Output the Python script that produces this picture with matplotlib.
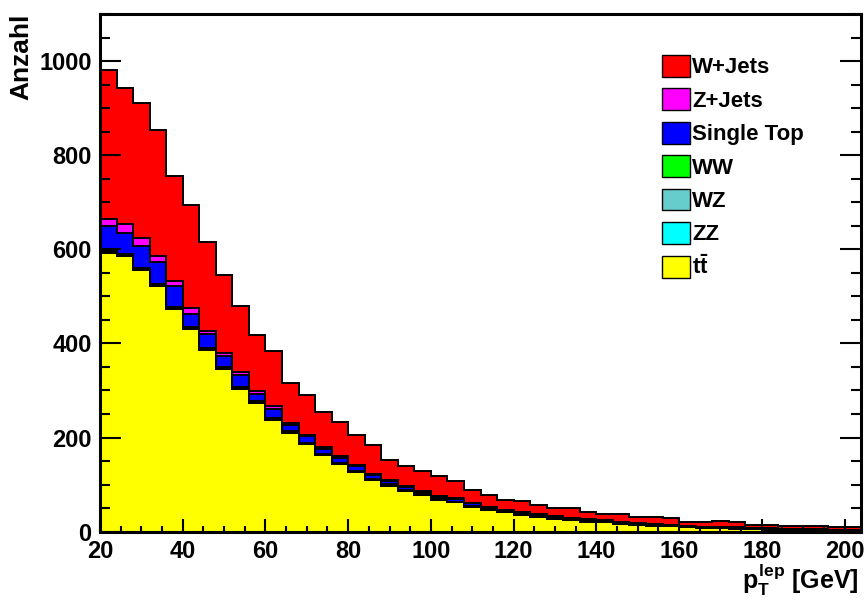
import numpy as np
import matplotlib
matplotlib.use("Agg")
import matplotlib.pyplot as plt
from matplotlib.patches import Patch
from matplotlib.ticker import MultipleLocator

plt.rcParams['font.family'] = ['Liberation Sans', 'DejaVu Sans']
plt.rcParams['font.weight'] = 'bold'
plt.rcParams['mathtext.fontset'] = 'custom'
plt.rcParams['mathtext.rm'] = 'Liberation Sans:bold'
plt.rcParams['mathtext.it'] = 'Liberation Sans:bold'
plt.rcParams['mathtext.bf'] = 'Liberation Sans:bold'

# bins of 4 GeV from 20 to 204
edges = np.arange(20, 205, 4)

# event counts per bin (stack order: bottom -> top)
ttbar = [592, 585, 556, 522, 473, 430, 387, 345, 303, 273,
         238, 210, 186, 162, 143, 127, 109, 98, 86, 77,
         67, 62, 53, 46, 41, 35, 31, 27, 24, 21.5,
         19.5, 16.5, 14.5, 12.5, 11.5, 9.5, 7.5, 7, 6.5, 5,
         4.5, 3.5, 3.5, 2.5, 2, 1.5]
zz = [0.3] * 15 + [0.1] * 31
wz = [1.0] * 15 + [0.5] * 31
ww = [3] * 10 + [2] * 10 + [1.5] * 10 + [1] * 16
single_top = [53, 46, 46, 47, 44, 29, 29, 23, 26, 16,
              19, 14, 13, 10, 11, 9, 9, 7, 6, 5,
              5, 6, 5, 4, 3, 4, 3, 3, 2.5, 2.5,
              2, 1.5, 1.5, 1.5, 1.5, 1, 1, 1, 0.8, 0.5,
              0.8, 0.7, 0.7, 0.7, 0.4, 0.7]
z_jets = [16, 18, 18, 12, 12, 12, 7, 7, 7, 5,
          6, 4, 4, 4, 3, 3, 2, 2, 2, 2,
          2, 2, 1.5, 1, 1, 1, 1, 1, 1, 1,
          0.8, 0.8, 0.8, 0.6, 0.6, 0.5, 0.5, 0.5, 0.4, 0.4,
          0.4, 0.3, 0.3, 0.3, 0.3, 0.3]
w_jets = [316, 290, 287, 269, 222, 218, 188, 167, 140, 119,
          118, 85, 85, 76, 73, 64, 61, 42, 43, 42,
          42, 36, 26, 25, 20, 23, 20, 18, 21, 15,
          14, 18, 13, 15, 13, 9, 9, 13, 11, 7,
          7, 7, 7, 6, 5, 5]

samples = [ttbar, zz, wz, ww, single_top, z_jets, w_jets]
names = [r'$t\bar{t}$', 'ZZ', 'WZ', 'WW', 'Single Top', 'Z+Jets', 'W+Jets']
colors = ['#ffff00', '#00ffff', '#66cccc', '#00ff00', '#0000ff', '#ff00ff', '#ff0000']

cum = np.cumsum(np.array(samples, dtype=float), axis=0)

fig = plt.figure(figsize=(8.68, 6.10), dpi=100)
ax = fig.add_axes([0.1152, 0.1284, 0.8768, 0.8486])

# draw top layer first so lower layers paint over it
for i in range(len(samples) - 1, -1, -1):
    ax.stairs(cum[i], edges, baseline=0, fill=True, color=colors[i], zorder=1)
    ax.stairs(cum[i], edges, baseline=0, color='black', lw=1.4, zorder=1.5)

ax.set_xlim(20, 204)
ax.set_ylim(0, 1100)

ax.set_axisbelow(False)
for s in ax.spines.values():
    s.set_linewidth(2.2)
    s.set_zorder(3)

ax.xaxis.set_major_locator(MultipleLocator(20))
ax.xaxis.set_minor_locator(MultipleLocator(5))
ax.yaxis.set_major_locator(MultipleLocator(200))
ax.yaxis.set_minor_locator(MultipleLocator(50))
ax.tick_params(axis='x', which='major', direction='in', length=9.5, width=1.5,
               labelsize=17, pad=6, top=False)
ax.tick_params(axis='x', which='minor', direction='in', length=4.5, width=1.5, top=False)
ax.tick_params(axis='y', which='major', direction='in', length=15, width=1.5,
               labelsize=17, pad=6, right=True)
ax.tick_params(axis='y', which='minor', direction='in', length=7.5, width=1.5, right=True)
for lab in ax.get_xticklabels() + ax.get_yticklabels():
    lab.set_fontweight('bold')

ax.set_ylabel('Anzahl', fontsize=19, fontweight='bold', loc='top')
ax.yaxis.set_label_coords(-0.087, 1.0)
ax.set_xlabel(r'$p_{T}^{lep}$ [GeV]', fontsize=18, fontweight='bold', loc='right')
ax.xaxis.set_label_coords(0.997, -0.058)
ax.xaxis.label.set_verticalalignment('top')

handles = [Patch(facecolor=colors[i], edgecolor='black', lw=1.0)
           for i in range(len(samples) - 1, -1, -1)]
labels = [names[i] for i in range(len(samples) - 1, -1, -1)]
ax.legend(handles, labels, loc='upper left', bbox_to_anchor=(0.739, 0.921),
          frameon=False, borderpad=0, borderaxespad=0,
          handlelength=1.22, handleheight=1.13, handletextpad=0.12,
          labelspacing=0.45, prop={'size': 16, 'weight': 'bold'})

fig.savefig('out.png', dpi=100)
